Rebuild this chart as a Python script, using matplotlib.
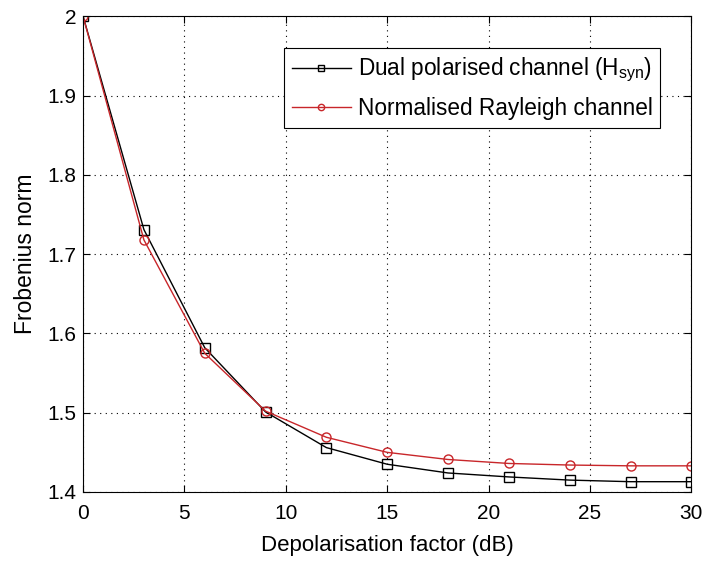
import matplotlib.pyplot as plt
import numpy as np

plt.rcParams['font.family'] = 'Liberation Sans'
plt.rcParams['mathtext.fontset'] = 'custom'
plt.rcParams['mathtext.rm'] = 'Liberation Sans'

depol = [0, 3, 6, 9, 12, 15, 18, 21, 24, 27, 30]
dual_norm = [2.0, 1.731, 1.582, 1.501, 1.456, 1.435, 1.424, 1.419, 1.415, 1.413, 1.413]
rayleigh_norm = [2.0, 1.718, 1.575, 1.502, 1.469, 1.450, 1.441, 1.436, 1.434, 1.433, 1.433]

fig = plt.figure(figsize=(7.04, 5.61), dpi=100)
ax = fig.add_axes([0.118, 0.123, 0.864, 0.848])

ax.plot(depol, dual_norm, color="black", lw=1, marker="s", ms=6.5, mfc="none",
        mew=1, label=r"Dual polarised channel (H$_{\mathregular{syn}}$)")
ax.plot(depol, rayleigh_norm, color="#c8262a", lw=1, marker="o", ms=6.5, mfc="none",
        mew=1, label="Normalised Rayleigh channel")

ax.set_xlim(0, 30)
ax.set_ylim(1.4, 2.0)
ax.set_xticks(np.arange(0, 31, 5))
ax.set_yticks([1.4, 1.5, 1.6, 1.7, 1.8, 1.9, 2.0])
ax.set_yticklabels(["1.4", "1.5", "1.6", "1.7", "1.8", "1.9", "2"])
ax.tick_params(direction="in", top=True, right=True, labelsize=15, length=5)
ax.tick_params(axis="x", pad=9)
ax.tick_params(axis="y", pad=5)
ax.grid(True, color="black", linestyle=(0, (1, 4)), linewidth=0.8)
ax.set_xlabel("Depolarisation factor (dB)", fontsize=16, labelpad=8)
ax.set_ylabel("Frobenius norm", fontsize=16.5, labelpad=7)

leg = ax.legend(loc="upper right", bbox_to_anchor=(0.949, 0.933), fontsize=16.3,
                fancybox=False, edgecolor="black", framealpha=1,
                handlelength=2.6, handletextpad=0.3, borderpad=0.35,
                labelspacing=0.55, markerscale=0.7, borderaxespad=0)
leg.get_frame().set_linewidth(0.8)

plt.savefig("out.png")
